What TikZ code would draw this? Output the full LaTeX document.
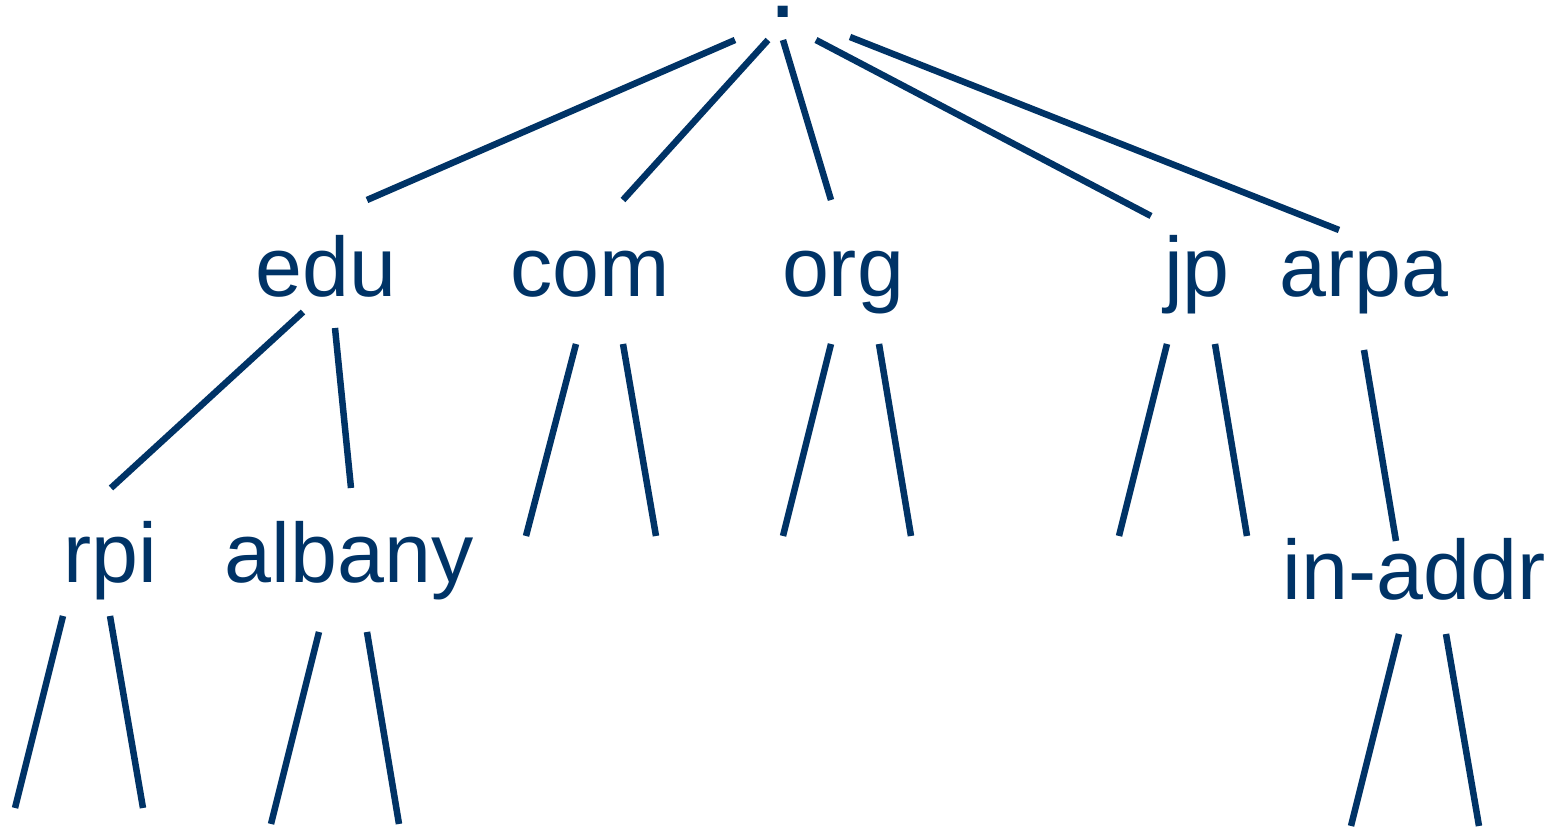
\documentclass[tikz,border=0pt]{standalone}
\usepackage{fontspec}
\setmainfont{Liberation Sans}
\definecolor{navy}{RGB}{0,51,102}
\begin{document}
\begin{tikzpicture}[x=0.01cm,y=-0.01cm,
  lbl/.style={anchor=base,inner sep=0pt,text=navy,font=\fontsize{24}{28}\selectfont},
  edge/.style={draw=navy,line width=1.85pt}]
\useasboundingbox (0,0) rectangle (1562,828);
% labels
\node[lbl,font=\fontsize{30}{34}\selectfont] (root) at (783,18) {.};
\node[lbl] (edu) at (326,297) {edu};
\node[lbl] (com) at (590,297) {com};
\node[lbl] (org) at (843,297) {org};
\node[lbl] (jp) at (1197,297) {jp};
\node[lbl] (arpa) at (1364,297) {arpa};
\node[lbl] (rpi) at (110,583) {rpi};
\node[lbl] (albany) at (349,583) {albany};
\node[lbl] (inaddr) at (1414,600) {in-addr};
% connector end points
\coordinate (r1) at (735,40);  \coordinate (e0) at (367,200);
\coordinate (r2) at (768,40);  \coordinate (c0) at (623,200);
\coordinate (r3) at (783,40);  \coordinate (o0) at (831,200);
\coordinate (r4) at (816,40);  \coordinate (j0) at (1151,216);
\coordinate (r5) at (850,37);  \coordinate (a0) at (1339,230);
\coordinate (e1) at (303,312); \coordinate (rp0) at (111,488);
\coordinate (e2) at (335,328); \coordinate (al0) at (351,488);
\coordinate (c1) at (576,344); \coordinate (c1e) at (526,536);
\coordinate (c2) at (623,344); \coordinate (c2e) at (656,536);
\coordinate (o1) at (831,344); \coordinate (o1e) at (783,536);
\coordinate (o2) at (879,344); \coordinate (o2e) at (911,536);
\coordinate (j1) at (1167,344); \coordinate (j1e) at (1119,536);
\coordinate (j2) at (1215,344); \coordinate (j2e) at (1247,536);
\coordinate (a1) at (1364,350); \coordinate (in0) at (1396,541);
\coordinate (rp1) at (63,616); \coordinate (rp1e) at (15,808);
\coordinate (rp2) at (110,616); \coordinate (rp2e) at (143,808);
\coordinate (al1) at (319,632); \coordinate (al1e) at (271,824);
\coordinate (al2) at (367,632); \coordinate (al2e) at (399,824);
\coordinate (in1) at (1399,634); \coordinate (in1e) at (1351,826);
\coordinate (in2) at (1446,634); \coordinate (in2e) at (1479,826);
% connectors
\draw[edge] (r1) -- (e0);
\draw[edge] (r2) -- (c0);
\draw[edge] (r3) -- (o0);
\draw[edge] (r4) -- (j0);
\draw[edge] (r5) -- (a0);
\draw[edge] (e1) -- (rp0);
\draw[edge] (e2) -- (al0);
\draw[edge] (c1) -- (c1e);
\draw[edge] (c2) -- (c2e);
\draw[edge] (o1) -- (o1e);
\draw[edge] (o2) -- (o2e);
\draw[edge] (j1) -- (j1e);
\draw[edge] (j2) -- (j2e);
\draw[edge] (a1) -- (in0);
\draw[edge] (rp1) -- (rp1e);
\draw[edge] (rp2) -- (rp2e);
\draw[edge] (al1) -- (al1e);
\draw[edge] (al2) -- (al2e);
\draw[edge] (in1) -- (in1e);
\draw[edge] (in2) -- (in2e);
\end{tikzpicture}
\end{document}
